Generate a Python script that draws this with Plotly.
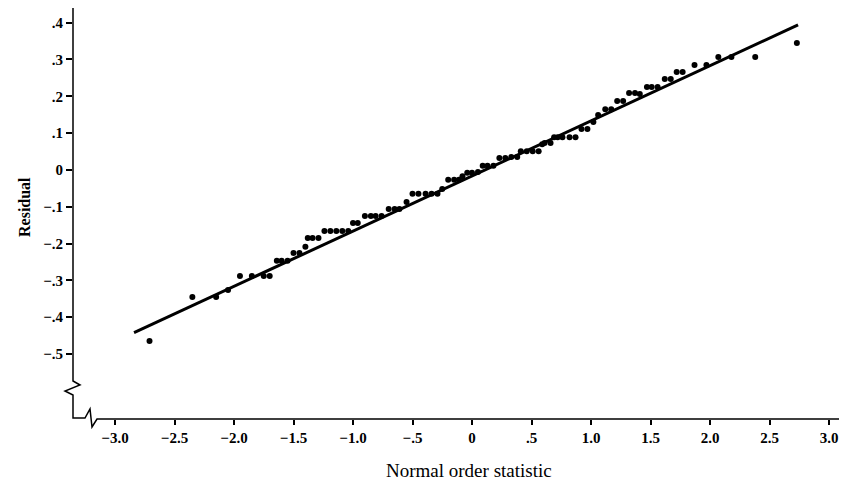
import plotly.graph_objects as go

# Normal probability plot of residuals
normal_scores = [
    -2.71, -2.35, -2.15, -2.05, -1.95, -1.85, -1.75, -1.70, -1.64, -1.60,
    -1.55, -1.50, -1.45, -1.40, -1.38, -1.34, -1.29, -1.24, -1.19, -1.14,
    -1.09, -1.04, -1.00, -0.96, -0.90, -0.85, -0.81, -0.76, -0.70, -0.65,
    -0.61, -0.55, -0.50, -0.45, -0.39, -0.34, -0.29, -0.25, -0.20, -0.15,
    -0.11, -0.08, -0.04, 0.00, 0.05, 0.09, 0.13, 0.18, 0.23, 0.28,
    0.33, 0.38, 0.41, 0.46, 0.51, 0.56, 0.59, 0.61, 0.66, 0.69,
    0.72, 0.76, 0.82, 0.87, 0.92, 0.97, 1.02, 1.06, 1.12, 1.17,
    1.22, 1.27, 1.32, 1.37, 1.41, 1.47, 1.51, 1.56, 1.62, 1.67,
    1.72, 1.77, 1.87, 1.97, 2.07, 2.18, 2.38, 2.73,
]
residuals = [
    -0.465, -0.345, -0.345, -0.326, -0.288, -0.288, -0.288, -0.288, -0.247, -0.247,
    -0.247, -0.226, -0.226, -0.209, -0.185, -0.185, -0.185, -0.166, -0.166, -0.166,
    -0.166, -0.166, -0.144, -0.144, -0.125, -0.125, -0.125, -0.125, -0.106, -0.106,
    -0.106, -0.087, -0.065, -0.065, -0.065, -0.065, -0.065, -0.052, -0.027, -0.027,
    -0.027, -0.017, -0.008, -0.008, -0.006, 0.011, 0.011, 0.011, 0.032, 0.032,
    0.035, 0.035, 0.051, 0.051, 0.051, 0.051, 0.070, 0.073, 0.073, 0.089,
    0.089, 0.089, 0.089, 0.089, 0.111, 0.111, 0.130, 0.149, 0.165, 0.165,
    0.187, 0.187, 0.209, 0.209, 0.206, 0.225, 0.225, 0.225, 0.247, 0.247,
    0.266, 0.266, 0.285, 0.285, 0.307, 0.307, 0.307, 0.345,
]

# fitted straight line (end points)
fit_x = [-2.84, 2.74]
fit_y = [-0.442, 0.394]

x_ticks = [-3.0, -2.5, -2.0, -1.5, -1.0, -0.5, 0, 0.5, 1.0, 1.5, 2.0, 2.5, 3.0]
x_labels = ["\u22123.0", "\u22122.5", "\u22122.0", "\u22121.5", "\u22121.0", "\u2212.5",
            "0", ".5", "1.0", "1.5", "2.0", "2.5", "3.0"]
y_ticks = [-0.5, -0.4, -0.3, -0.2, -0.1, 0, 0.1, 0.2, 0.3, 0.4]
y_labels = ["\u2212.5", "\u2212.4", "\u2212.3", "\u2212.2", "\u2212.1",
            "0", ".1", ".2", ".3", ".4"]

# the page has an 8px body margin, so work in window pixels and shift
OFF = 8
W, H = 847 - OFF, 490 - OFF
L, R, T, B = 73, 842, 8, 419   # plot area, window pixels


def px(x, y):
    # window pixel -> paper coords, for the hand drawn axis with breaks
    return (x - L) / (R - L), (B - y) / (B - T)


def path(points):
    parts = []
    for i, (x, y) in enumerate(points):
        u, v = px(x, y)
        parts.append(("M" if i == 0 else "L") + f"{u:.5f},{v:.5f}")
    return " ".join(parts)


fig = go.Figure()

fig.add_trace(go.Scatter(
    x=fit_x, y=fit_y, mode="lines",
    line=dict(color="black", width=3),
    showlegend=False, hoverinfo="skip",
))
fig.add_trace(go.Scatter(
    x=normal_scores, y=residuals, mode="markers",
    marker=dict(color="black", size=6),
    showlegend=False,
))

# axis lines with the little "break" zig-zags
axis_pts = [(73, 5), (73, 381), (80, 385), (65, 391), (73, 395), (73, 418),
            (85, 418), (90, 409), (92, 427), (97, 419), (845, 419)]
fig.add_shape(type="path", xref="paper", yref="paper", path=path(axis_pts),
              line=dict(color="black", width=1.5))

serif = "Liberation Serif, Times New Roman, serif"

fig.update_layout(
    width=W, height=H,
    margin=dict(l=L - OFF, r=W + OFF - R, t=T - OFF, b=H + OFF - B),
    plot_bgcolor="white",
    paper_bgcolor="white",
    font=dict(family=serif, color="black"),
    xaxis=dict(
        range=[(L - 472) / 119, (R - 472) / 119],
        tickvals=x_ticks, ticktext=x_labels,
        ticks="outside", ticklen=5, tickwidth=1.5, tickcolor="black",
        showgrid=False, zeroline=False, showline=False,
        tickfont=dict(family=serif, size=15, weight="bold"),
    ),
    yaxis=dict(
        range=[(169.9 - B) / 368.1, (169.9 - T) / 368.1],
        tickvals=y_ticks, ticktext=y_labels,
        ticks="outside", ticklen=6, tickwidth=1.5, tickcolor="black",
        showgrid=False, zeroline=False, showline=False,
        tickfont=dict(family=serif, size=15, weight="bold"),
    ),
    annotations=[
        dict(text="Residual", textangle=-90, showarrow=False,
             xref="paper", yref="paper", x=px(25, 207)[0], y=px(25, 207)[1],
             xanchor="center", yanchor="middle",
             font=dict(family=serif, size=16, weight="bold")),
        dict(text="Normal order statistic", showarrow=False,
             xref="paper", yref="paper", x=px(469, 470)[0], y=px(469, 470)[1],
             xanchor="center", yanchor="middle",
             font=dict(family=serif, size=19)),
    ],
)

fig.write_html("out.html")
